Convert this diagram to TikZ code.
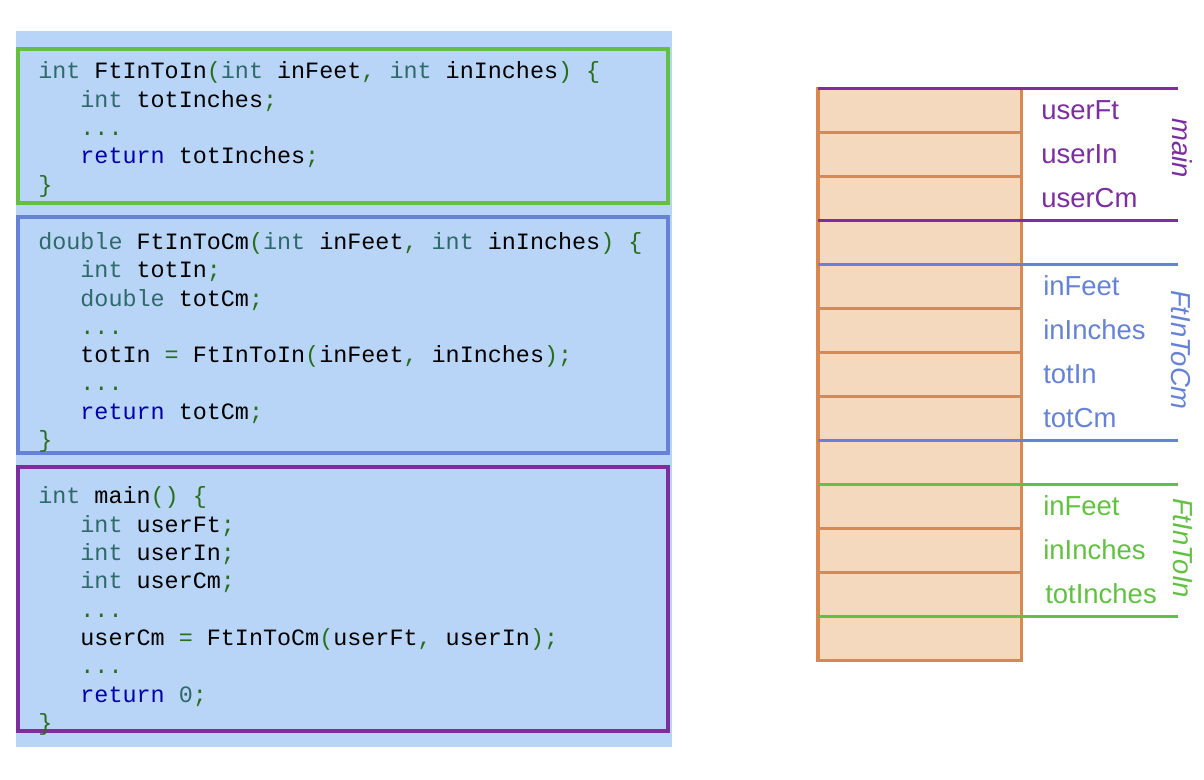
\documentclass[tikz,border=0pt]{standalone}
\usepackage{fontspec}
\setsansfont{Liberation Sans}
\setmonofont{Liberation Mono}

\definecolor{panelblue}{RGB}{184,212,246}
\definecolor{ingreen}{RGB}{98,192,67}
\definecolor{cmblue}{RGB}{102,130,214}
\definecolor{mainpurple}{RGB}{122,46,160}
\definecolor{cellfill}{RGB}{245,217,190}
\definecolor{cellorange}{RGB}{217,137,80}
\definecolor{codeteal}{RGB}{46,106,106}
\definecolor{codeblue}{RGB}{0,0,170}
\definecolor{codegreen}{RGB}{40,110,30}

\newcommand{\ckw}[1]{\textcolor{codeteal}{#1}}
\newcommand{\cret}[1]{\textcolor{codeblue}{#1}}
\newcommand{\cpun}[1]{\textcolor{codegreen}{#1}}
\newcommand{\cind}{\hphantom{xxx}}

\tikzset{
    codeline/.style={anchor=base west, inner sep=0pt, font=\ttfamily\fontsize{17.56}{21}\selectfont},
    framebox/.style={line width=3pt},
    stackcell/.style={draw=cellorange, fill=cellfill, line width=2.5pt},
    frameline/.style={line width=2.5pt},
    varlabel/.style={anchor=base west, inner sep=0pt, font=\sffamily\fontsize{20.6}{24}\selectfont},
    framelabel/.style={rotate=-90, inner sep=0pt, font=\sffamily\itshape\fontsize{20.6}{24}\selectfont}
}

\begin{document}
\begin{tikzpicture}[x=0.75pt, y=-0.75pt]
        \useasboundingbox (0,0) rectangle (1204,780);

        % code
        \fill[panelblue] (16,31) rectangle (672,747);
        \draw[framebox, ingreen] (18,49) rectangle (668,203);
        \draw[framebox, cmblue] (18,217) rectangle (668,453);
        \draw[framebox, mainpurple] (18,467) rectangle (668,731);

        \foreach \ln [count=\i from 0] in {
            {\ckw{int} FtInToIn\cpun{(}\ckw{int} inFeet\cpun{,} \ckw{int} inInches\cpun{)} \cpun{\{}},
            {\cind \ckw{int} totInches\cpun{;}},
            {\cind \cpun{...}},
            {\cind \cret{return} totInches\cpun{;}},
            {\cpun{\}}}} {
            \node[codeline] (green\i) at (38, 79+28.3*\i) {\ln};
        }

        \foreach \ln [count=\i from 0] in {
            {\ckw{double} FtInToCm\cpun{(}\ckw{int} inFeet\cpun{,} \ckw{int} inInches\cpun{)} \cpun{\{}},
            {\cind \ckw{int} totIn\cpun{;}},
            {\cind \ckw{double} totCm\cpun{;}},
            {\cind \cpun{...}},
            {\cind totIn \cpun{=} FtInToIn\cpun{(}inFeet\cpun{,} inInches\cpun{);}},
            {\cind \cpun{...}},
            {\cind \cret{return} totCm\cpun{;}},
            {\cpun{\}}}} {
            \node[codeline] (blue\i) at (38, 249.5+28.3*\i) {\ln};
        }

        \foreach \ln [count=\i from 0] in {
            {\ckw{int} main\cpun{() \{}},
            {\cind \ckw{int} userFt\cpun{;}},
            {\cind \ckw{int} userIn\cpun{;}},
            {\cind \ckw{int} userCm\cpun{;}},
            {\cind \cpun{...}},
            {\cind userCm \cpun{=} FtInToCm\cpun{(}userFt\cpun{,} userIn\cpun{);}},
            {\cind \cpun{...}},
            {\cind \cret{return} \ckw{0}\cpun{;}},
            {\cpun{\}}}} {
            \node[codeline] (purple\i) at (38, 504+28.3*\i) {\ln};
        }

        % stack
        \foreach \i in {0,...,12} {
            \draw[stackcell] (818, 88.5+44*\i) rectangle ++ (203.5,44);
        }

        \draw[frameline, mainpurple] (818,88.5) -- (1178,88.5);
        \draw[frameline, mainpurple] (818,88.5+44*3) -- (1178,88.5+44*3);
        \draw[frameline, cmblue] (818,88.5+44*4) -- (1178,88.5+44*4);
        \draw[frameline, cmblue] (818,88.5+44*8) -- (1178,88.5+44*8);
        \draw[frameline, ingreen] (818,88.5+44*9) -- (1178,88.5+44*9);
        \draw[frameline, ingreen] (818,88.5+44*12) -- (1178,88.5+44*12);

        \foreach \txt/\row/\clr/\dx [count=\i] in {userFt/0/mainpurple/0, userIn/1/mainpurple/0,
            userCm/2/mainpurple/0, inFeet/4/cmblue/2, inInches/5/cmblue/2, totIn/6/cmblue/2,
            totCm/7/cmblue/2, inFeet/9/ingreen/2, inInches/10/ingreen/2, totInches/11/ingreen/4} {
            \node[varlabel, text=\clr] (var\i) at (1041+\dx, 88.5+44*\row+31) {\txt};
        }

        \node[framelabel, text=mainpurple] (mainname) at (1182,148) {main};
        \node[framelabel, text=cmblue] (cmname) at (1181,350) {FtInToCm};
        \node[framelabel, text=ingreen] (inname) at (1183,548) {FtInToIn};
    \end{tikzpicture}
\end{document}
